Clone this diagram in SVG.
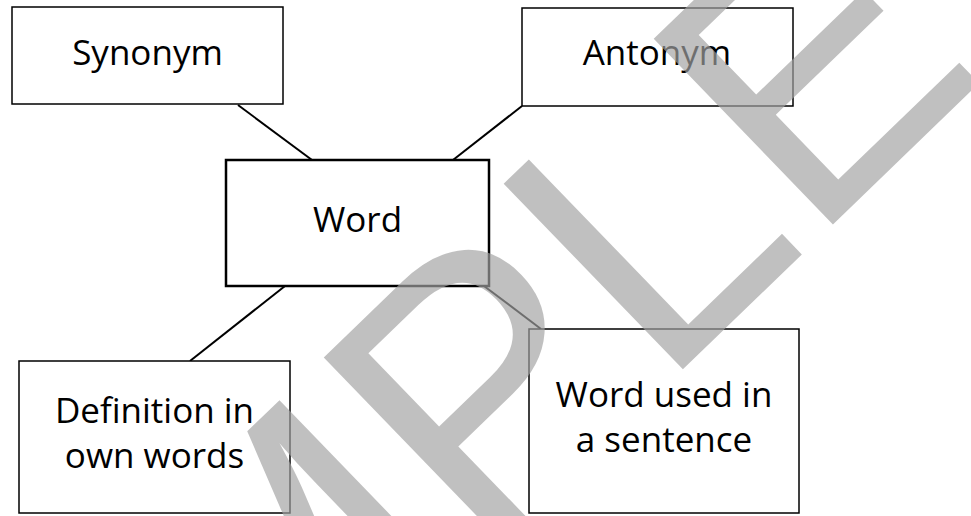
<svg xmlns="http://www.w3.org/2000/svg" width="971" height="516" viewBox="0 0 971 516">
<style>
.box{fill:#fff;stroke:#000;stroke-width:1.5}
.main{fill:#fff;stroke:#000;stroke-width:2.5}
.lbl{font-family:"Open Sans","Noto Sans",sans-serif;font-size:35px;fill:#000;text-anchor:middle}
.conn{stroke:#000;stroke-width:2;fill:none}
.wm{font-family:"Liberation Sans",Arial,sans-serif;font-size:375px;fill:#a2a2a2;fill-opacity:0.68}
</style>
<rect width="971" height="516" fill="#fff"/>
<g id="connectors">
<line class="conn" x1="238" y1="105" x2="312" y2="160"/>
<line class="conn" x1="522" y1="106" x2="453" y2="160"/>
<line class="conn" x1="285" y1="286" x2="190" y2="361"/>
<line class="conn" x1="484" y1="286" x2="541" y2="329"/>
</g>
<g id="synonym">
<rect class="box" x="12" y="7" width="271" height="97"/>
<text class="lbl" x="147.5" y="65">Synonym</text>
</g>
<g id="antonym">
<rect class="box" x="522" y="8" width="271" height="98"/>
<text class="lbl" x="657" y="65">Antonym</text>
</g>
<g id="word">
<rect class="main" x="226" y="160" width="263" height="126"/>
<text class="lbl" x="357.5" y="232">Word</text>
</g>
<g id="definition">
<rect class="box" x="19" y="361" width="271" height="152"/>
<text class="lbl" x="154.5" y="423">Definition in</text>
<text class="lbl" x="154.5" y="468">own words</text>
</g>
<g id="sentence">
<rect class="box" x="529" y="329" width="270" height="184"/>
<text class="lbl" x="664" y="407">Word used in</text>
<text class="lbl" x="664" y="452">a sentence</text>
</g>
<g id="watermark">
<text class="wm" transform="translate(660.6,390.8) rotate(-44)" x="-1062.5" y="0">SAMPLE</text>
</g>
</svg>
